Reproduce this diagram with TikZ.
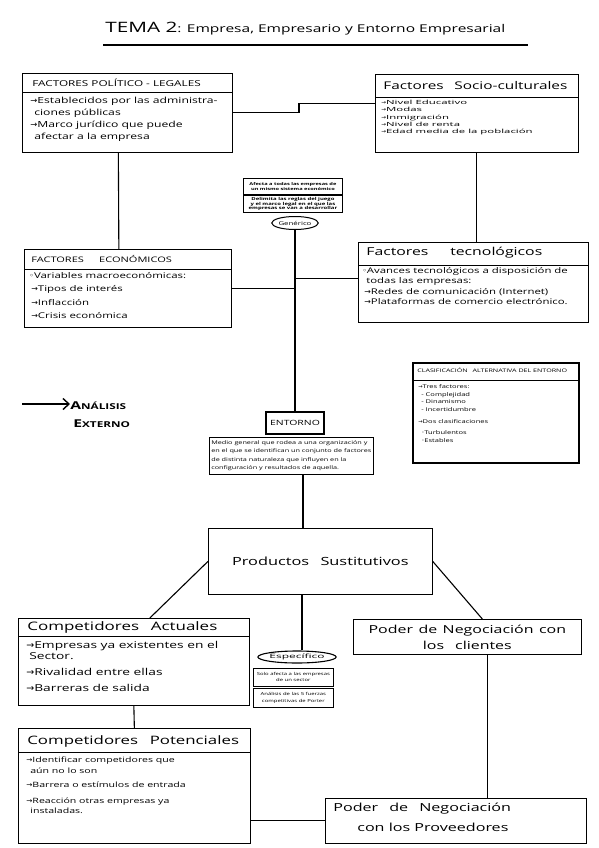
\documentclass[tikz,border=0pt]{standalone}
\usepackage{fontspec}
\setmainfont{Open Sans}
\newfontfamily\hand[FakeStretch=1.45]{Open Sans}
\newfontfamily\handw[FakeStretch=2.0]{Open Sans}
\newfontfamily\symfont{DejaVu Sans}
\newcommand{\handsize}[2]{\hand\fontsize{#1}{#2}\selectfont}
\newcommand{\handwsize}[2]{\handw\fontsize{#1}{#2}\selectfont}
\newcommand{\arr}{{\symfont →}}
\newcommand{\bul}{{\symfont ◦}}
\usetikzlibrary{shapes.geometric,arrows.meta}

\begin{document}
\begin{tikzpicture}[x=1pt,y=-1pt,line width=0.7pt,
    frame node/.style={draw,anchor=north west,inner sep=0pt},
    head node/.style={anchor=west,inner sep=0pt},
    text node/.style={anchor=north west,inner sep=0pt,align=left},
    small node/.style={draw,anchor=north west,inner sep=0pt,align=center},
    link/.style={line width=1.1pt}]
    \fill[white] (0,0) rectangle (599,848);
    \useasboundingbox (0,0) rectangle (599,848);

    % titulo
    \node[head node,font=\handsize{10.7}{14}] (title) at (105,29) {{\fontsize{14.3}{18}\selectfont TEMA 2}: Empresa, Empresario y Entorno Empresarial};
    \draw[link] (103,45) -- (528,45);

    % factores politico-legales
    \node[frame node,minimum width=210pt,minimum height=79pt] (pol) at (22,73) {};
    \draw (pol.west |- 0,92) -- (pol.east |- 0,92);
    \node[head node,font=\handsize{8.1}{10}] (polH) at (32,83) {FACTORES POLÍTICO - LEGALES};
    \node[text node,font=\handsize{8.4}{11.8}] (polT) at (30,97) {\arr Establecidos por las administra-\\\hspace{4pt}ciones públicas\\\arr Marco jurídico que puede\\\hspace{4pt}afectar a la empresa};

    % factores socio-culturales
    \node[frame node,minimum width=203pt,minimum height=78pt] (soc) at (375,74) {};
    \draw (soc.west |- 0,97) -- (soc.east |- 0,97);
    \node[head node,font=\handsize{10.6}{12}] (socH) at (383,86) {Factores\quad Socio-culturales};
    \node[text node,font=\handwsize{5.7}{7.3}] (socT) at (381,100) {\arr Nivel Educativo\\\arr Modas\\\arr Inmigración\\\arr Nivel de renta\\\arr Edad media de la población};

    % generico
    \node[small node,line width=0.9pt,minimum width=99pt,minimum height=16pt,font=\bfseries\handsize{3.9}{5}] (afecta) at (243,178) {Afecta a todas las empresas de\\un mismo sistema económico};
    \node[small node,line width=0.9pt,minimum width=99pt,minimum height=17pt,font=\bfseries\handsize{4.1}{4.9}] (delim) at (243,195) {Delimita las reglas del juego\\y el marco legal en el que las\\empresas se van a desarrollar};
    \node[draw,ellipse,line width=1pt,minimum width=46pt,minimum height=13pt,inner sep=0pt,font=\handsize{5.4}{6}] (gen) at (295,223) {Genérico};

    % factores economicos
    \node[frame node,minimum width=207pt,minimum height=78pt] (eco) at (24,249) {};
    \draw (eco.west |- 0,269) -- (eco.east |- 0,269);
    \node[head node,font=\handsize{7.6}{10}] (ecoH) at (31,259) {FACTORES\qquad ECONÓMICOS};
    \node[text node,font=\handsize{7.9}{13.5}] (ecoT) at (29,272) {\bul Variables macroeconómicas:\\\hspace{2pt}\arr Tipos de interés\\\hspace{2pt}\arr Inflacción\\\hspace{2pt}\arr Crisis económica};

    % factores tecnologicos
    \node[frame node,minimum width=230pt,minimum height=80pt] (tec) at (358,242) {};
    \draw (tec.west |- 0,265) -- (tec.east |- 0,265);
    \node[head node,font=\handsize{10.9}{13}] (tecH) at (366,253) {Factores\qquad tecnológicos};
    \node[text node,font=\handsize{7.85}{10.5}] (tecT) at (362,267) {\bul Avances tecnológicos a disposición de\\\hspace{4pt}todas las empresas:\\\hspace{2pt}\arr Redes de comunicación (Internet)\\\hspace{2pt}\arr Plataformas de comercio electrónico.};

    % clasificacion alternativa
    \node[frame node,line width=1.6pt,minimum width=166pt,minimum height=100pt] (clas) at (412,362) {};
    \draw (clas.west |- 0,380) -- (clas.east |- 0,380);
    \node[head node,font=\handsize{4.9}{6}] (clasH) at (417,370) {CLASIFICACIÓN\quad ALTERNATIVA DEL ENTORNO};
    \node[text node,font=\handsize{5.2}{7.8}] (clasT) at (418,384) {\arr Tres factores:\\\hspace{3pt}- Complejidad\\\hspace{3pt}- Dinamismo\\\hspace{3pt}- Incertidumbre\\[4pt]\arr Dos clasificaciones\\[3pt]\hspace{3pt}\bul Turbulentos\\\hspace{3pt}\bul Estables};

    % analisis externo
    \node[text node,anchor=west,font=\bfseries\handsize{8.1}{18}] (ana) at (70,415) {{\fontsize{10.8}{14}\selectfont A}NÁLISIS\\\hspace{3pt}{\fontsize{10.8}{14}\selectfont E}XTERNO};
    \coordinate (anaS) at (22,404);
    \draw[line width=1.4pt,-{Straight Barb[length=6pt,width=11pt]}] (anaS) -- (anaS -| ana.west);

    % entorno
    \node[draw,line width=1.6pt,minimum width=58pt,minimum height=22pt,inner sep=0pt,font=\handsize{7.2}{10}] (ent) at (295,423) {ENTORNO};
    \node[frame node,minimum width=161pt,minimum height=37pt,inner sep=2pt,align=left,font=\handsize{5}{8.4}] (desc) at (209,437) {Medio general que rodea a una organización y\\en el que se identifican un conjunto de factores\\de distinta naturaleza que influyen en la\\configuración y resultados de aquella.};

    % productos sustitutivos
    \node[frame node,minimum width=224pt,minimum height=66pt,font=\handsize{11.25}{13}] (prod) at (208,528) {Productos\quad Sustitutivos};

    % competidores actuales
    \node[frame node,minimum width=231pt,minimum height=87pt] (act) at (18,618) {};
    \draw (act.west |- 0,636) -- (act.east |- 0,636);
    \node[head node,font=\handsize{11.7}{14}] (actH) at (27,627) {Competidores\quad Actuales};
    \node[text node,font=\handsize{9.5}{11}] (actT) at (26,641) {\arr Empresas ya existentes en el\\\hspace{3pt}Sector.\\[5pt]\arr Rivalidad entre ellas\\[5pt]\arr Barreras de salida};

    % especifico
    \node[draw,ellipse,line width=1.1pt,minimum width=68pt,minimum height=12pt,inner sep=0pt,font=\handwsize{6}{6}] (spec) at (297,657) {Específico};
    \node[small node,minimum width=80pt,minimum height=18pt,font=\handsize{4.1}{6}] (solo) at (253,668) {Solo afecta a las empresas\\de un sector};
    \node[small node,minimum width=80pt,minimum height=19pt,font=\handsize{4.1}{6.5}] (porter) at (253,688) {Análisis de las 5 fuerzas\\competitivas de Porter};

    % poder de negociacion con los clientes
    \node[frame node,minimum width=228pt,minimum height=35pt,align=center,font=\handsize{11}{16}] (cli) at (353,619) {Poder\enskip de\enskip Negociación\enskip con\\los\quad clientes};

    % competidores potenciales
    \node[frame node,minimum width=232pt,minimum height=115pt] (pot) at (18,728) {};
    \draw (pot.west |- 0,752) -- (pot.east |- 0,752);
    \node[head node,font=\handsize{11.6}{14}] (potH) at (27,741) {Competidores\quad Potenciales};
    \node[text node,font=\handsize{7.3}{10.5}] (potT) at (26,757) {\arr Identificar competidores que\\\hspace{4pt}aún no lo son\\[4pt]\arr Barrera o estímulos de entrada\\[5pt]\arr Reacción otras empresas ya\\\hspace{4pt}instaladas.};

    % poder de negociacion con los proveedores
    \node[frame node,minimum width=261pt,minimum height=45pt] (pro) at (325,798) {};
    \node[text node,font=\handsize{11.1}{20}] (proT) at (333,803) {Poder\quad de\quad Negociación\\\hspace{24pt}con los Proveedores};

    % conexiones
    \coordinate (jog) at (299,108);
    \draw[link] (pol.east) -| (jog) |- ([yshift=10pt]soc.west);
    \draw[link] ([xshift=-9pt]pol.south) -- ([xshift=-9pt]eco.north);
    \draw[link] (soc.south) -- (soc.south |- tec.north);
    \draw[link] (gen.south) -- (ent.north);
    \draw[link] (eco.east) -- (eco.east -| ent.north);
    \draw[link] ([yshift=4pt]tec.west) -- ([yshift=4pt]tec.west -| ent.north);
    \draw[link] ([xshift=6pt]desc.south -| spec.north) -- ([xshift=6pt]prod.north -| spec.north);
    \draw[link] ([xshift=5pt]prod.south -| spec.north) -- ([xshift=5pt]spec.north);
    \draw[link] (prod.west) -- ([xshift=16pt]act.north);
    \draw[link] (prod.east) -- ([xshift=15pt]cli.north);
    \draw[link] (act.south) -- (pot.north);
    \draw[link] ([xshift=32pt]pro.north |- cli.south) -- ([xshift=32pt]pro.north);
    \draw[link] (pro.west -| pot.east) -- (pro.west);
\end{tikzpicture}
\end{document}
